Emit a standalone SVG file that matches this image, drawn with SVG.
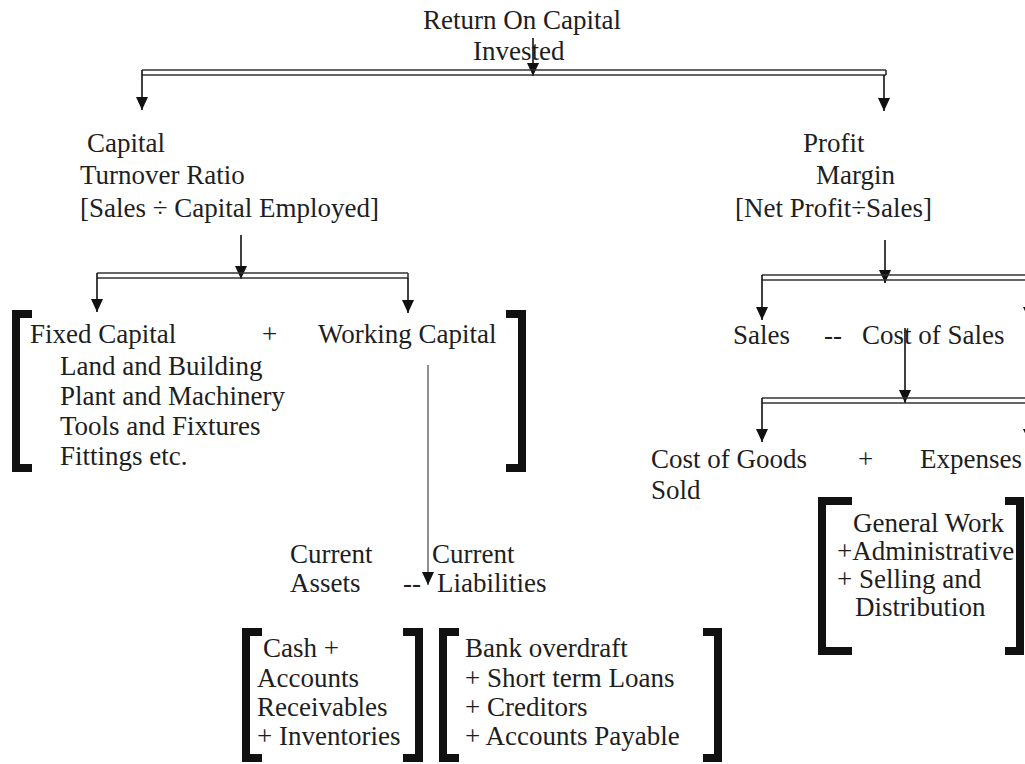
<svg xmlns="http://www.w3.org/2000/svg" width="1025" height="764" viewBox="0 0 1025 764">
<defs>
<marker id="ah" viewBox="0 0 13 12" refX="13" refY="6" markerWidth="13" markerHeight="12" markerUnits="userSpaceOnUse" orient="auto">
<path d="M0,0 L13,6 L0,12 z" fill="#111"/>
</marker>
<style>
text{font-family:"Liberation Serif","Times New Roman",serif;font-size:27px;fill:#1e1e1e}
.dl{stroke:#333;stroke-width:1.6;fill:none}
.ar{stroke:#111;stroke-width:1.6;fill:none;marker-end:url(#ah)}
.thin{stroke:#444;stroke-width:1.2;fill:none;marker-end:url(#ah)}
.br{stroke:#111;stroke-width:8;fill:none;stroke-linejoin:miter}
</style>
</defs>
<rect width="1025" height="764" fill="#fff"/>

<g id="connectors">
<line class="ar" x1="533" y1="38" x2="533" y2="76"/>
<line class="dl" x1="142" y1="70" x2="886" y2="70"/>
<line class="dl" x1="142" y1="75" x2="886" y2="75"/>
<line class="dl" x1="886" y1="70" x2="886" y2="75"/>
<line class="ar" x1="142" y1="70" x2="142" y2="110"/>
<line class="ar" x1="884" y1="75" x2="884" y2="111"/>
<line class="ar" x1="241" y1="235" x2="241" y2="279"/>
<line class="dl" x1="97" y1="273" x2="408" y2="273"/>
<line class="dl" x1="97" y1="278" x2="408" y2="278"/>
<line class="dl" x1="408" y1="273" x2="408" y2="278"/>
<line class="ar" x1="97" y1="273" x2="97" y2="312"/>
<line class="ar" x1="408" y1="278" x2="408" y2="313"/>
<line class="thin" x1="428" y1="365" x2="428" y2="585"/>
<line class="ar" x1="885" y1="240" x2="885" y2="283"/>
<line class="dl" x1="762" y1="275" x2="1025" y2="275"/>
<line class="dl" x1="762" y1="280" x2="1025" y2="280"/>
<line class="ar" x1="762" y1="275" x2="762" y2="320"/>
<line class="ar" x1="1029" y1="280" x2="1029" y2="320"/>
<line class="ar" x1="905" y1="328" x2="905" y2="403"/>
<line class="dl" x1="762" y1="398" x2="1025" y2="398"/>
<line class="dl" x1="762" y1="403" x2="1025" y2="403"/>
<line class="ar" x1="762" y1="398" x2="762" y2="442"/>
<line class="ar" x1="1029" y1="403" x2="1029" y2="442"/>
</g>

<g id="roci">
<text x="423" y="29">Return On Capital</text>
<text x="473" y="60">Invested</text>
</g>

<g id="capital-turnover">
<text x="87" y="152">Capital</text>
<text x="80" y="184">Turnover Ratio</text>
<text x="80" y="217">[Sales ÷ Capital Employed]</text>
</g>

<g id="profit-margin">
<text x="803" y="152">Profit</text>
<text x="816" y="184">Margin</text>
<text x="735" y="217">[Net Profit÷Sales]</text>
</g>

<g id="capital-employed">
<path class="br" d="M32,314 H16 V468 H32"/>
<path class="br" d="M506,314 H522 V468 H506"/>
<text x="30" y="343">Fixed Capital</text>
<text x="262" y="343">+</text>
<text x="318" y="343">Working Capital</text>
<text x="60" y="375">Land and Building</text>
<text x="60" y="405">Plant and Machinery</text>
<text x="60" y="435">Tools and Fixtures</text>
<text x="60" y="465">Fittings etc.</text>
</g>

<g id="current">
<text x="290" y="563">Current</text>
<text x="290" y="592">Assets</text>
<text x="403" y="592">--</text>
<text x="432" y="563">Current</text>
<text x="437" y="592">Liabilities</text>
</g>

<g id="current-assets">
<path class="br" d="M262,632 H246 V758 H262"/>
<path class="br" d="M403,632 H419 V758 H403"/>
<text x="263" y="657">Cash +</text>
<text x="257" y="687">Accounts</text>
<text x="257" y="716">Receivables</text>
<text x="257" y="745">+ Inventories</text>
</g>

<g id="current-liabilities">
<path class="br" d="M459,632 H443 V758 H459"/>
<path class="br" d="M703,632 H718 V758 H703"/>
<text x="465" y="657">Bank overdraft</text>
<text x="465" y="687">+ Short term Loans</text>
<text x="465" y="716">+ Creditors</text>
<text x="465" y="745">+ Accounts Payable</text>
</g>

<g id="sales">
<text x="733" y="344">Sales</text>
<text x="824" y="344">--</text>
<text x="862" y="344">Cost of Sales</text>
</g>

<g id="cost-of-sales">
<text x="651" y="468">Cost of Goods</text>
<text x="651" y="499">Sold</text>
<text x="858" y="468">+</text>
<text x="920" y="468">Expenses</text>
</g>

<g id="expenses">
<path class="br" d="M852,501 H822 V651 H852"/>
<path class="br" d="M1005,501 H1020 V651 H1005"/>
<text x="853" y="532">General Work</text>
<text x="837" y="560">+Administrative</text>
<text x="837" y="588">+ Selling and</text>
<text x="855" y="616">Distribution</text>
</g>
</svg>
